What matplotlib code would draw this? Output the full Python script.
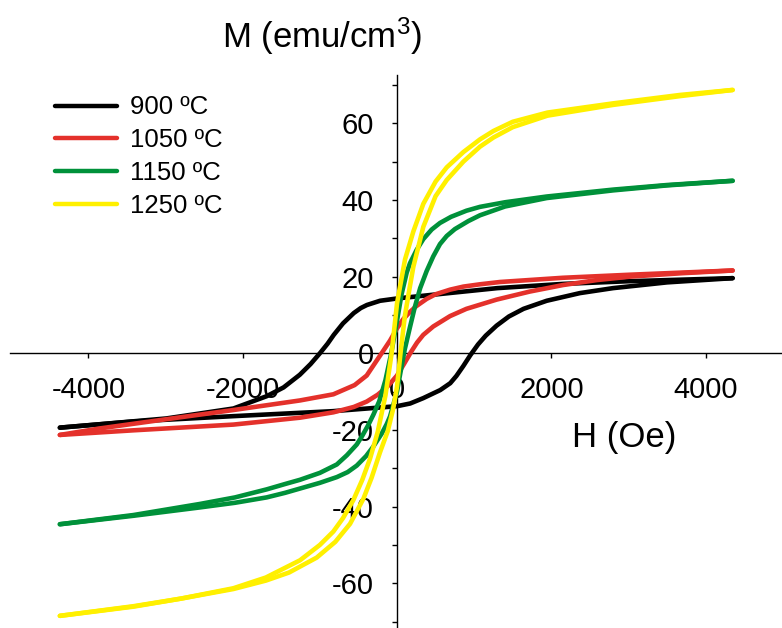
import matplotlib
matplotlib.use("Agg")
import matplotlib.pyplot as plt
from matplotlib.ticker import FixedLocator, FuncFormatter

plt.rcParams['font.family'] = ['Liberation Sans', 'DejaVu Sans']
plt.rcParams['mathtext.fontset'] = 'custom'
plt.rcParams['mathtext.rm'] = 'Liberation Sans'
plt.rcParams['mathtext.it'] = 'Liberation Sans'

# ---- data (H in Oe, M in emu/cm^3) ----
labels = ["900 \u00baC", "1050 \u00baC", "1150 \u00baC", "1250 \u00baC"]
colors = ["#000000", "#e4312b", "#00913a", "#fff000"]

# 900 C  (desc: field decreasing, asc: field increasing)
h900_desc = [4350, 3000, 2150, 1300, 430, 0, -220, -390, -470, -560, -700, -820, -900, -1000, -1120, -1260, -1470, -1690, -2120, -2990, -3850, -4370]
m900_desc = [19.6, 18.8, 18.1, 17.0, 15.2, 14.3, 13.7, 12.6, 11.8, 10.5, 7.8, 4.8, 2.5, 0.0, -2.8, -5.6, -8.9, -11.2, -14.4, -17.0, -18.5, -19.4]
h900_asc = [-4370, -3420, -2120, -830, 0, 170, 340, 560, 690, 770, 860, 950, 1050, 1150, 1290, 1450, 1640, 1940, 2370, 2800, 3500, 4350]
m900_asc = [-19.4, -17.8, -16.4, -15.1, -13.8, -13.1, -11.7, -9.6, -7.8, -5.9, -3.3, -0.5, 2.3, 4.6, 7.2, 9.6, 11.6, 13.7, 15.7, 17.0, 18.5, 19.6]

# 1050 C
h1050_desc = [4350, 3020, 2150, 1335, 1075, 860, 687, 500, 385, 250, 168, 80, 0, -91, -200, -300, -393, -550, -825, -1257, -2120, -2990, -3850, -4370]
m1050_desc = [21.6, 20.5, 19.7, 18.6, 18.0, 17.4, 16.6, 15.4, 14.2, 12.3, 10.8, 8.9, 6.5, 3.3, 0.0, -3.0, -5.8, -8.3, -10.7, -12.3, -14.8, -17.2, -19.6, -21.3]
h1050_asc = [-4370, -3420, -2120, -1257, -825, -560, -393, -250, -120, 0, 90, 180, 260, 340, 470, 687, 900, 1290, 1720, 2150, 2590, 3020, 3700, 4350]
m1050_asc = [-21.3, -20.1, -18.6, -16.8, -15.4, -14.0, -12.6, -10.8, -8.6, -5.8, -2.8, 0.3, 2.8, 4.8, 7.0, 9.7, 11.6, 14.0, 16.1, 17.8, 19.1, 20.0, 20.9, 21.6]

# 1150 C
h1150_desc = [4350, 3500, 2800, 1940, 1400, 1075, 900, 700, 557, 450, 341, 255, 168, 125, 60, 0, -75, -150, -230, -306, -372, -450, -522, -650, -780, -1000, -1257, -1450, -1689, -2100, -2553, -3417, -4370]
m1150_desc = [45.0, 43.9, 42.7, 40.9, 39.4, 38.2, 37.2, 35.6, 34.0, 32.3, 29.8, 27.0, 23.5, 21.0, 15.5, 8.5, 0.0, -7.0, -12.5, -16.0, -18.7, -21.5, -23.8, -26.6, -29.0, -31.2, -33.0, -34.1, -35.5, -37.6, -39.3, -42.2, -44.6]
h1150_asc = [-4370, -3420, -2550, -2100, -1690, -1450, -1260, -1000, -780, -640, -522, -400, -306, -200, -134, -91, 0, 40, 100, 170, 230, 300, 385, 470, 557, 644, 750, 925, 1075, 1400, 1940, 2800, 3500, 4350]
m1150_asc = [-44.6, -42.4, -40.2, -39.0, -37.6, -36.4, -35.3, -33.8, -32.3, -31.0, -29.3, -26.8, -24.3, -21.0, -18.5, -16.5, -10.0, -5.5, 1.0, 7.0, 12.0, 17.0, 21.5, 25.3, 28.5, 30.6, 32.4, 34.5, 36.0, 38.3, 40.5, 42.5, 43.8, 45.0]

# 1250 C
h1250_desc = [4350, 3670, 2800, 1950, 1500, 1250, 1075, 860, 644, 500, 341, 212, 104, 40, 0, -70, -150, -250, -350, -450, -566, -700, -825, -1000, -1257, -1700, -2121, -2800, -3417, -4370]
m1250_desc = [68.7, 67.4, 65.2, 62.8, 60.4, 58.0, 55.8, 52.5, 48.5, 44.8, 39.0, 31.8, 24.5, 17.5, 13.0, 0.0, -11.0, -20.5, -27.5, -33.0, -38.3, -43.0, -46.5, -50.0, -54.0, -58.5, -61.3, -64.0, -66.1, -68.5]
h1250_asc = [-4370, -3420, -2800, -2121, -1700, -1400, -1041, -800, -609, -437, -330, -220, -120, -50, 0, 45, 100, 150, 212, 341, 500, 644, 860, 1075, 1250, 1500, 1950, 2800, 3670, 4350]
m1250_asc = [-68.5, -66.0, -64.0, -61.5, -59.3, -57.2, -53.3, -49.2, -44.5, -38.0, -32.5, -25.8, -20.3, -14.5, -8.7, 0.0, 9.5, 15.5, 22.6, 33.0, 41.0, 45.2, 50.0, 53.9, 56.3, 59.0, 62.0, 64.8, 67.1, 68.7]

loops = [
    (h900_desc, m900_desc, h900_asc, m900_asc),
    (h1050_desc, m1050_desc, h1050_asc, m1050_asc),
    (h1150_desc, m1150_desc, h1150_asc, m1150_asc),
    (h1250_desc, m1250_desc, h1250_asc, m1250_asc),
]

x_major = [-4000, -2000, 0, 2000, 4000]
y_major = [-60, -40, -20, 0, 20, 40, 60]
y_minor = [-70, -50, -30, -10, 10, 30, 50, 70]

# ---- figure ----
W, H = 782, 628
fig = plt.figure(figsize=(W / 100, H / 100), dpi=100)
ax = fig.add_axes([0, 0, 1, 1])
ax.patch.set_visible(False)

lw = 3.3
for (hd, md, ha, ma), c, lab in zip(loops, colors, labels):
    ax.plot(hd, md, color=c, lw=lw, label=lab, solid_capstyle='round',
            solid_joinstyle='round', zorder=3)
    ax.plot(ha, ma, color=c, lw=lw, solid_capstyle='round',
            solid_joinstyle='round', zorder=3)

ax.set_xlim(-5146, 4990)
ax.set_ylim(-71.67, 92.17)

for s in ['top', 'right']:
    ax.spines[s].set_visible(False)
ax.spines['left'].set_position(('data', 0))
ax.spines['bottom'].set_position(('data', 0))
ax.spines['left'].set_bounds(-72, 72.6)
ax.spines['bottom'].set_bounds(-5016, 4990)
ax.spines['left'].set_linewidth(1.0)
ax.spines['bottom'].set_linewidth(1.0)

fmt = FuncFormatter(lambda v, p: "%d" % v)
ax.xaxis.set_major_locator(FixedLocator(x_major))
ax.xaxis.set_major_formatter(fmt)
ax.yaxis.set_major_locator(FixedLocator(y_major))
ax.yaxis.set_minor_locator(FixedLocator(y_minor))
ax.yaxis.set_major_formatter(fmt)

ax.tick_params(axis='x', which='major', direction='out', length=3.6, width=1.0,
               labelsize=21, pad=13)
ax.tick_params(axis='y', which='both', direction='out', length=3.6, width=1.0,
               labelsize=21, pad=13)

fig.text(322 / W, 1 - 36 / H, r"M (emu/cm$^{3}$)", fontsize=25,
         ha='center', va='center')
fig.text(624 / W, 1 - 438 / H, "H (Oe)", fontsize=25, ha='center', va='center')

leg = ax.legend(loc='upper left', bbox_to_anchor=(55 / W, 1 - 95.5 / H),
                bbox_transform=fig.transFigure, frameon=False, fontsize=18.5,
                handlelength=2.41, handletextpad=0.5, labelspacing=0.34,
                borderpad=0, borderaxespad=0)
for l in leg.get_lines():
    l.set_linewidth(3.2)

fig.savefig("out.png", dpi=100)
